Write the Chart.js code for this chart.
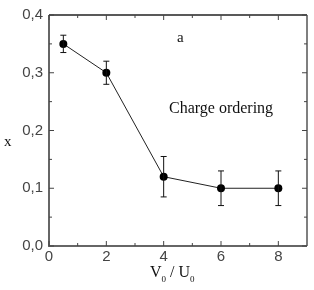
<!DOCTYPE html>
<html>
<head>
<meta charset="utf-8">
<script src="https://cdn.jsdelivr.net/npm/chart.js@4/dist/chart.umd.min.js"></script>
<style>
  html, body { margin: 0; padding: 0; background: #fff; }
  #wrap { width: 314px; height: 290px; }
</style>
</head>
<body>
<div id="wrap"><canvas id="myChart" width="314" height="290"></canvas></div>
<script>
// dados
const ratio = [0.5, 2, 4, 6, 8];
const xValues = [0.35, 0.30, 0.12, 0.10, 0.10];
const xErrors = [0.015, 0.02, 0.035, 0.03, 0.03];

const xTicks = [0, 2, 4, 6, 8];
const xMinor = [1, 3, 5, 7];
const yTicks = [0, 0.1, 0.2, 0.3, 0.4];
const yMinor = [0.05, 0.15, 0.25, 0.35];

const points = ratio.map((v, i) => ({x: v, y: xValues[i]}));

// barras de erro + moldura com ticks para dentro
const framePlugin = {
  id: 'frame',
  afterDatasetsDraw(chart) {
    const ctx = chart.ctx;
    const a = chart.chartArea;
    const sx = chart.scales.x, sy = chart.scales.y;

    ctx.save();
    // barras de erro
    ctx.strokeStyle = '#111';
    ctx.lineWidth = 1;
    points.forEach((p, i) => {
      const px = sx.getPixelForValue(p.x);
      const top = sy.getPixelForValue(p.y + xErrors[i]);
      const bot = sy.getPixelForValue(p.y - xErrors[i]);
      ctx.beginPath();
      ctx.moveTo(px, top); ctx.lineTo(px, bot);
      ctx.moveTo(px - 3, top); ctx.lineTo(px + 3, top);
      ctx.moveTo(px - 3, bot); ctx.lineTo(px + 3, bot);
      ctx.stroke();
    });

    // moldura
    ctx.lineWidth = 2;
    ctx.strokeStyle = '#666';
    ctx.beginPath();
    ctx.moveTo(a.left, a.top); ctx.lineTo(a.left, a.bottom); ctx.lineTo(a.right, a.bottom);
    ctx.stroke();
    ctx.strokeStyle = '#222';
    ctx.lineWidth = 1.5;
    ctx.beginPath();
    ctx.moveTo(a.left, a.top); ctx.lineTo(a.right, a.top);
    ctx.stroke();
    ctx.strokeStyle = '#555';
    ctx.beginPath();
    ctx.moveTo(a.right, a.top); ctx.lineTo(a.right, a.bottom);
    ctx.stroke();

    // ticks
    ctx.lineWidth = 1;
    ctx.strokeStyle = '#444';
    const tickX = (v, len) => {
      const px = sx.getPixelForValue(v);
      ctx.beginPath();
      ctx.moveTo(px, a.bottom); ctx.lineTo(px, a.bottom - len);
      ctx.moveTo(px, a.top); ctx.lineTo(px, a.top + len);
      ctx.stroke();
    };
    const tickY = (v, len) => {
      const py = sy.getPixelForValue(v);
      ctx.beginPath();
      ctx.moveTo(a.left, py); ctx.lineTo(a.left + len, py);
      ctx.moveTo(a.right, py); ctx.lineTo(a.right - len, py);
      ctx.stroke();
    };
    xTicks.forEach(v => tickX(v, 5));
    xMinor.forEach(v => tickX(v, 3));
    yTicks.forEach(v => tickY(v, 5));
    yMinor.forEach(v => tickY(v, 3));

    // textos
    ctx.fillStyle = '#111';
    ctx.textBaseline = 'alphabetic';
    ctx.textAlign = 'left';
    ctx.font = '15px "Liberation Serif"';
    ctx.fillText('a', 177, 42);
    ctx.fillText('x', 4, 146);
    ctx.font = '16px "Liberation Serif"';
    ctx.fillText('Charge ordering', 169, 113);

    // titulo do eixo x com subscritos
    ctx.font = '16px "Liberation Serif"';
    let cx = 150;
    const by = 277;
    ctx.fillText('V', cx, by); cx += ctx.measureText('V').width;
    ctx.font = '9px "Liberation Serif"';
    ctx.fillText('0', cx, by + 5); cx += ctx.measureText('0').width;
    ctx.font = '16px "Liberation Serif"';
    ctx.fillText(' / U', cx, by); cx += ctx.measureText(' / U').width;
    ctx.font = '9px "Liberation Serif"';
    ctx.fillText('0', cx, by + 5);
    ctx.restore();
  }
};

const ctx = document.getElementById('myChart').getContext('2d');
const myChart = new Chart(ctx, {
  type: 'scatter',
  data: {
    datasets: [{
      data: points,
      showLine: true,
      borderColor: '#222',
      borderWidth: 1,
      backgroundColor: '#000',
      pointRadius: 4,
      pointBorderWidth: 0
    }]
  },
  options: {
    responsive: false,
    animation: false,
    layout: { padding: { left: 0, right: 7, top: 14, bottom: 22 } },
    plugins: { legend: { display: false }, tooltip: { enabled: false } },
    scales: {
      x: {
        type: 'linear',
        min: 0, max: 9,
        afterBuildTicks: (s) => { s.ticks = xTicks.map(v => ({value: v})); },
        grid: { display: false, drawTicks: false },
        border: { display: false },
        ticks: {
          color: '#444',
          font: { family: 'Liberation Sans', size: 15 },
          padding: 2,
          maxRotation: 0
        }
      },
      y: {
        min: 0, max: 0.4,
        afterBuildTicks: (s) => { s.ticks = yTicks.map(v => ({value: v})); },
        afterFit: (s) => { s.width = 49; },
        grid: { display: false, drawTicks: false },
        border: { display: false },
        ticks: {
          color: '#444',
          font: { family: 'Liberation Sans', size: 15 },
          padding: 6,
          callback: (v) => v.toFixed(1).replace('.', ',')
        }
      }
    }
  },
  plugins: [framePlugin]
});
</script>
</body>
</html>
